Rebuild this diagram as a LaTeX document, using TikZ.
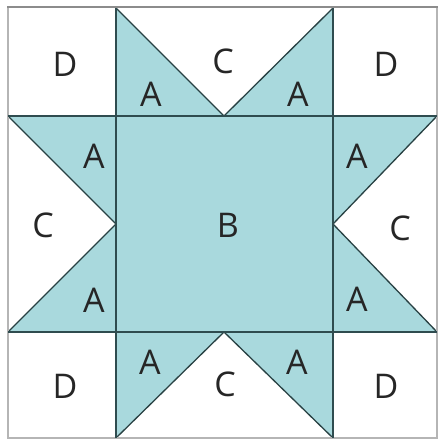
\documentclass[tikz,border=0pt]{standalone}
\usepackage{fontspec}
\setmainfont{Open Sans}
\definecolor{quiltfill}{HTML}{A9D9DD}
\definecolor{seam}{HTML}{2F4C4F}
\definecolor{edge}{HTML}{B5B5B5}
\definecolor{edgetop}{HTML}{8C8C8C}
\begin{document}
\begin{tikzpicture}[x=1pt,y=-1pt,
  lbl/.style={font=\fontsize{34}{34}\selectfont, text=black!85, inner sep=0pt},
  patch/.style={fill=quiltfill},
  seamline/.style={draw=seam, line width=1.8pt},
  diag/.style={draw=seam!85!black, line width=1.3pt}]
\useasboundingbox (0,0) rectangle (438,441);
\fill[white] (0,0) rectangle (438,441);
% filled patches
\fill[patch] (116,116) rectangle (333,332);
\fill[patch] (116,8) -- (116,116) -- (224,116) -- cycle;
\fill[patch] (333,8) -- (333,116) -- (224,116) -- cycle;
\fill[patch] (8,116) -- (116,116) -- (116,224) -- cycle;
\fill[patch] (8,332) -- (116,332) -- (116,224) -- cycle;
\fill[patch] (437,116) -- (333,116) -- (333,224) -- cycle;
\fill[patch] (437,332) -- (333,332) -- (333,224) -- cycle;
\fill[patch] (116,438) -- (116,332) -- (224,332) -- cycle;
\fill[patch] (333,438) -- (333,332) -- (224,332) -- cycle;
% diagonals
\draw[diag] (116,8) -- (224,116) -- (333,8);
\draw[diag] (8,116) -- (116,224) -- (8,332);
\draw[diag] (437,116) -- (333,224) -- (437,332);
\draw[diag] (116,438) -- (224,332) -- (333,438);
% outer border
\draw[edge, line width=1.5pt] (8,8) -- (8,438) -- (437,438) -- (437,8);
\draw[edgetop, line width=2pt] (7,7) -- (438,7);
% seams
\draw[seamline] (116,8) -- (116,438);
\draw[seamline] (333,8) -- (333,438);
\draw[seamline] (8,116) -- (437,116);
\draw[seamline] (8,332) -- (437,332);
% labels
\node[lbl] (d1) at (65,64) {D};
\node[lbl] (d2) at (386,64) {D};
\node[lbl] (d3) at (65,386) {D};
\node[lbl] (d4) at (386,386) {D};
\node[lbl] (ct) at (223,61) {C};
\node[lbl] (cl) at (43,225) {C};
\node[lbl] (cr) at (400,228) {C};
\node[lbl] (cb) at (225,384) {C};
\node[lbl] (b) at (228,225) {B};
\node[lbl] (a1) at (151,94) {A};
\node[lbl] (a2) at (298,94) {A};
\node[lbl] (a3) at (94,156) {A};
\node[lbl] (a4) at (94,300) {A};
\node[lbl] (a5) at (357,156) {A};
\node[lbl] (a6) at (357,299) {A};
\node[lbl] (a7) at (150,362) {A};
\node[lbl] (a8) at (297,362) {A};
\end{tikzpicture}
\end{document}
